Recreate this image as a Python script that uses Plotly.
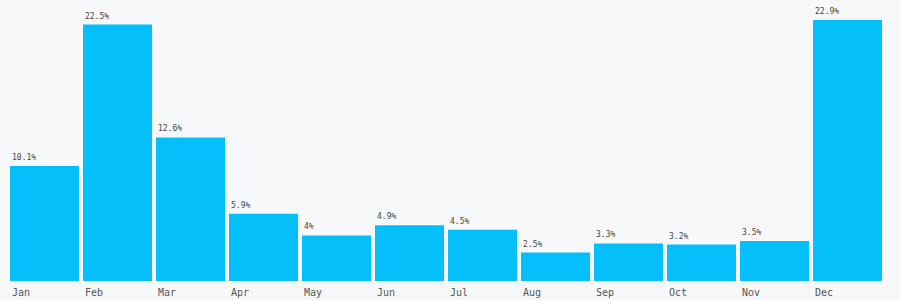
import plotly.graph_objects as go

months = ["Jan", "Feb", "Mar", "Apr", "May", "Jun", "Jul", "Aug", "Sep", "Oct", "Nov", "Dec"]
values = [10.1, 22.5, 12.6, 5.9, 4, 4.9, 4.5, 2.5, 3.3, 3.2, 3.5, 22.9]

BAR_W = 69 / 73
FONT = "DejaVu Sans Mono"
idx = list(range(len(months)))

fig = go.Figure()
fig.add_trace(go.Bar(
    x=idx, y=values, width=BAR_W,
    marker=dict(color="#05bffb", line=dict(width=0)),
    hoverinfo="skip",
))

annotations = []
for i, (m, v) in enumerate(zip(months, values)):
    annotations.append(dict(
        x=i - BAR_W / 2, y=v, xref="x", yref="y",
        text=f"{v}%", showarrow=False, xanchor="left", yanchor="bottom",
        xshift=0, yshift=2,
        font=dict(family=FONT, size=8, color="#444444"),
    ))
    annotations.append(dict(
        x=i - BAR_W / 2, y=0, xref="x", yref="paper",
        text=m, showarrow=False, xanchor="left", yanchor="top",
        xshift=0, yshift=-4,
        font=dict(family=FONT, size=10, color="#555555"),
    ))

fig.update_layout(
    width=900, height=300,
    margin=dict(l=8, r=16, t=20, b=19),
    paper_bgcolor="#f7f8fa", plot_bgcolor="#f7f8fa",
    showlegend=False,
    xaxis=dict(range=[-0.5, 11.5], showticklabels=False, showgrid=False,
               zeroline=False, showline=False, ticks=""),
    yaxis=dict(range=[0, 22.9], showticklabels=False, showgrid=False,
               zeroline=False, showline=False, ticks=""),
    annotations=annotations,
)

fig.write_html("out.html")
